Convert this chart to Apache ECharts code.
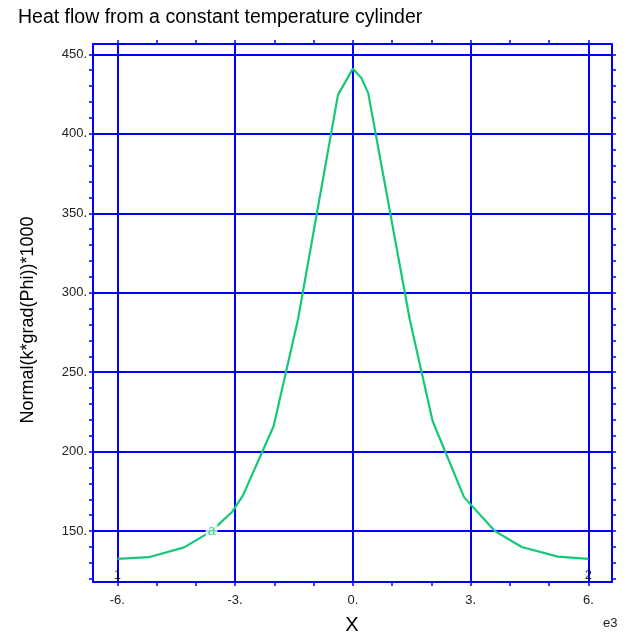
<!DOCTYPE html>
<html>
<head>
<meta charset="utf-8">
<script src="https://cdn.jsdelivr.net/npm/echarts@6/dist/echarts.min.js"></script>
<style>html,body{margin:0;padding:0;background:#fff;}#c{width:626px;height:636px;}</style>
</head>
<body>
<div id="c"></div>
<script>
// x in thousands (axis multiplier e3)
const xValues = [-6, -5.2, -4.3, -3.6, -3.08, -2.8, -2.02, -1.4, -0.38, 0, 0.22, 0.39, 1.45, 2.03, 2.83, 3.62, 4.3, 5.22, 6];
const yValues = [132.6, 133.6, 139.8, 150, 162, 172.5, 216, 283, 424.5, 441, 435, 425.6, 283, 219.3, 171.4, 150, 140, 134, 132.6];
const xMajorTicks = [-6, -3, 0, 3, 6];
const xAllTicks = [-6, -5, -4, -3, -2, -1, 0, 1, 2, 3, 4, 5, 6];
const yMajorTicks = [150, 200, 250, 300, 350, 400, 450];
const yAllTicks = [120,130,140,150,160,170,180,190,200,210,220,230,240,250,260,270,280,290,300,310,320,330,340,350,360,370,380,390,400,410,420,430,440,450];
const curveLabel = [[-3.6, 150, 'a']];
const endLabels = [[-6, 122.1, '1'], [6, 122.1, '2']];

const BLUE = '#0000ff';
const GREEN = '#14c878';
const FONT = 'Liberation Sans, Arial, sans-serif';

function xAxisCfg(pos, labels) {
  return {
    type: 'value', min: -6.62, max: 6.6, position: pos,
    axisLine: {show: true, onZero: false, lineStyle: {color: BLUE, width: 2}},
    axisTick: {show: true, customValues: xAllTicks, length: 4, inside: false, lineStyle: {color: BLUE, width: 1.5}},
    axisLabel: {show: labels, customValues: xMajorTicks, formatter: v => v + '.', margin: 12,
      color: '#222', fontSize: 13, fontFamily: FONT},
    splitLine: {show: false}
  };
}
function yAxisCfg(pos, labels) {
  return {
    type: 'value', min: 118, max: 456.5, position: pos,
    axisLine: {show: true, onZero: false, lineStyle: {color: BLUE, width: 2}},
    axisTick: {show: true, customValues: yAllTicks, length: 4, inside: false, lineStyle: {color: BLUE, width: 1.5}},
    axisLabel: {show: labels, customValues: yMajorTicks, formatter: v => v + '.', margin: 6,
      color: '#222', fontSize: 13, fontFamily: FONT},
    splitLine: {show: false}
  };
}

const chart = echarts.init(document.getElementById('c'), null, {renderer: 'canvas'});
chart.setOption({
  animation: false,
  backgroundColor: '#fff',
  title: {
    text: 'Heat flow from a constant temperature cylinder',
    left: 13, top: 3,
    textStyle: {fontSize: 19.5, fontWeight: 'normal', color: '#000', fontFamily: FONT}
  },
  grid: {left: 93, right: 14, top: 44, bottom: 54, containLabel: false},
  xAxis: [xAxisCfg('bottom', true), xAxisCfg('top', false)],
  yAxis: [yAxisCfg('left', true), yAxisCfg('right', false)],
  graphic: [
    {type: 'text', x: 28, y: 320, rotation: Math.PI / 2,
      style: {text: 'Normal(k*grad(Phi))*1000', fill: '#000', font: '18px ' + FONT, align: 'center', verticalAlign: 'middle'}},
    {type: 'text', x: 352, y: 625,
      style: {text: 'X', fill: '#000', font: '20px ' + FONT, align: 'center', verticalAlign: 'middle'}},
    {type: 'text', x: 603, y: 623,
      style: {text: 'e3', fill: '#222', font: '13px ' + FONT, align: 'left', verticalAlign: 'middle'}}
  ],
  series: [
    {
      type: 'line', z: 2,
      data: xValues.map((x, i) => [x, yValues[i]]),
      showSymbol: false, symbol: 'none',
      lineStyle: {color: GREEN, width: 2.2},
      markLine: {
        silent: true, z: 1, symbol: ['none', 'none'], label: {show: false},
        lineStyle: {color: BLUE, width: 2, type: 'solid'},
        emphasis: {disabled: true},
        data: xMajorTicks.map(v => ({xAxis: v})).concat(yMajorTicks.map(v => ({yAxis: v})))
      }
    },
    {
      type: 'scatter', z: 3, data: curveLabel, symbolSize: 1,
      itemStyle: {color: 'rgba(0,0,0,0)'},
      label: {show: true, position: 'inside', formatter: p => p.value[2], color: GREEN,
        fontSize: 14, fontFamily: FONT, backgroundColor: '#fff', padding: [0, 2]}
    },
    {
      type: 'scatter', z: 3, data: endLabels, symbolSize: 1,
      itemStyle: {color: 'rgba(0,0,0,0)'},
      label: {show: true, position: 'inside', formatter: p => p.value[2], color: '#000',
        fontSize: 13, fontFamily: FONT}
    }
  ]
});
</script>
</body>
</html>
